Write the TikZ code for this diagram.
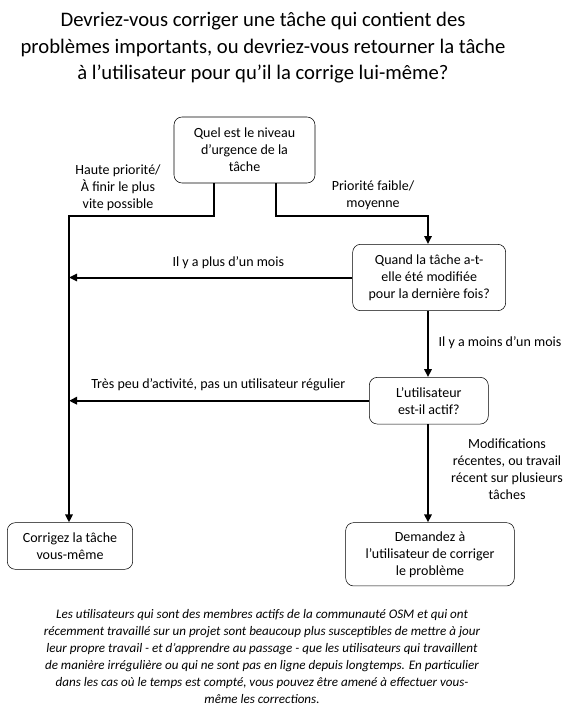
\documentclass[tikz,border=0pt]{standalone}
\usepackage{fontspec}
\setmainfont{Carlito}
\usetikzlibrary{arrows.meta}

\begin{document}
\begin{tikzpicture}[x=0.75pt, y=-0.75pt,
    box/.style={draw, rounded corners=6pt, align=center, inner sep=0pt, font=\fontsize{10.5}{12.75}\selectfont},
    lbl/.style={align=center, inner sep=0pt, font=\fontsize{10.5}{12.75}\selectfont},
    flow/.style={line width=1.5pt, -{Triangle[length=6pt,width=5.5pt]}}]
            \useasboundingbox (0,0) rectangle (577,717);

            \node[lbl, font=\fontsize{15.5}{19.9}\selectfont] (title) at (263,48) {Devriez-vous corriger une tâche qui contient des\\problèmes importants, ou devriez-vous retourner la tâche\\à l’utilisateur pour qu’il la corrige lui-même?};

            \node[box, minimum width=105.75pt, minimum height=49.5pt] (urgence) at (244.5,150) {Quel est le niveau\\d’urgence de la\\tâche};
            \node[box, minimum width=114.75pt, minimum height=49.8pt] (modif) at (429.2,277.5) {Quand la tâche a-t-\\elle été modifiée\\pour la dernière fois?};
            \node[box, minimum width=89.25pt, minimum height=35pt] (actif) at (428.8,400.7) {L’utilisateur\\est-il actif?};
            \node[box, minimum width=94pt, minimum height=35pt] (vousmeme) at (70,546) {Corrigez la tâche\\vous-même};
            \node[box, minimum width=126.5pt, minimum height=47.5pt] (demandez) at (430,554.3) {Demandez à\\l’utilisateur de corriger\\le problème};

            \coordinate (haut) at (214,215.7);
            \coordinate (bas) at (276,215.7);
            \coordinate (gauche) at (69,215.7);
            \coordinate (droite) at (428,215.7);

            \draw[flow] (urgence.south -| haut) -- (haut) -- (gauche) -- (gauche |- vousmeme.north);
            \draw[flow] (urgence.south -| bas) -- (bas) -- (droite) -- (droite |- modif.north);
            \draw[flow] (modif.west) -- (modif.west -| gauche);
            \draw[flow] (modif.south -| droite) -- (droite |- actif.north);
            \draw[flow] (actif.west) -- (actif.west -| gauche);
            \draw[flow] (actif.south -| droite) -- (droite |- demandez.north);

            \node[lbl] (hautlbl) at (118,188) {Haute priorité/\\À finir le plus\\vite possible};
            \node[lbl] (baslbl) at (373,195) {Priorité faible/\\moyenne};
            \node[lbl] (pluslbl) at (228.3,263) {Il y a plus d’un mois};
            \node[lbl] (moinslbl) at (500,343) {Il y a moins d’un mois};
            \node[lbl] (peulbl) at (218.3,385) {Très peu d’activité, pas un utilisateur régulier};
            \node[lbl] (recentlbl) at (507,469.3) {Modifications\\récentes, ou travail\\récent sur plusieurs\\tâches};

            \node[lbl, font=\fontsize{9.8}{12.75}\selectfont\itshape] (note) at (262,656.5) {Les utilisateurs qui sont des membres actifs de la communauté OSM et qui ont\\récemment travaillé sur un projet sont beaucoup plus susceptibles de mettre à jour\\leur propre travail - et d'apprendre au passage - que les utilisateurs qui travaillent\\de manière irrégulière ou qui ne sont pas en ligne depuis longtemps. En particulier\\dans les cas où le temps est compté, vous pouvez être amené à effectuer vous-\\même les corrections.};
        \end{tikzpicture}
\end{document}
